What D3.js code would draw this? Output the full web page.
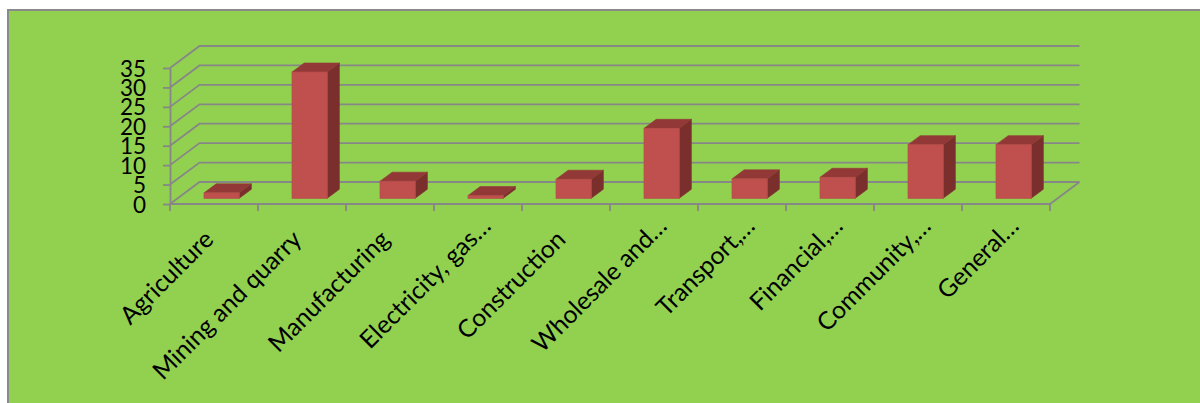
<!DOCTYPE html>
<html>
<head>
<meta charset="utf-8">
<script src="https://cdn.jsdelivr.net/npm/d3@7"></script>
<style>
  html, body { margin: 0; padding: 0; background: #ffffff; }
  svg { display: block; }
</style>
</head>
<body>
<div id="chart"></div>
<script>
// ---- data ----
const categories = ["Agriculture", "Mining and quarry", "Manufacturing", "Electricity, gas\u2026",
  "Construction", "Wholesale and\u2026", "Transport,\u2026", "Financial,\u2026", "Community,\u2026", "General\u2026"];
const values = [1.4, 32.5, 4.4, 0.7, 4.9, 18.0, 5.0, 5.4, 13.8, 13.8];
const yTicks = [0, 5, 10, 15, 20, 25, 30, 35];

// ---- layout ----
const W = 1200, H = 403;
const plot = { left: 170, right: 1050, bottom: 204, top: 68 };
const depth = { dx: 29.5, dy: -22 };       // floor depth vector
const barDepth = { d0: 0.26, d1: 0.67 };    // fraction of floor depth
const barFrac = 0.4;                        // bar width as fraction of band
const fontFamily = "Lato, 'Open Sans', sans-serif";

const colors = {
  bg: "#92D050", border: "#8a8a8a", grid: "#878787",
  front: "#C0504D", top: "#923937", side: "#7B2F2D", text: "#000000"
};

const svg = d3.select("#chart").append("svg").attr("width", W).attr("height", H);

// chart area
svg.append("rect").attr("x", 8).attr("y", 10).attr("width", W + 20).attr("height", H + 20)
  .attr("fill", colors.bg).attr("stroke", colors.border).attr("stroke-width", 2);

const y = d3.scaleLinear().domain([0, 35]).range([plot.bottom, plot.top]);
const x = d3.scaleBand().domain(categories).range([plot.left, plot.right]).padding(0);

// back wall + left wall gridlines
const g = svg.append("g");
g.selectAll("path.grid").data(yTicks).join("path").attr("class", "grid")
  .attr("d", t => `M${plot.left},${y(t)} L${plot.left + depth.dx},${y(t) + depth.dy} L${plot.right + depth.dx},${y(t) + depth.dy}`)
  .attr("fill", "none").attr("stroke", colors.grid).attr("stroke-width", 1.8);

// floor front edge and right edge
g.append("path")
  .attr("d", `M${plot.left},${plot.bottom} L${plot.right},${plot.bottom} L${plot.right + depth.dx},${plot.bottom + depth.dy}`)
  .attr("fill", "none").attr("stroke", colors.grid).attr("stroke-width", 1.8);

// vertical axis
const yAxis = d3.axisLeft(y).tickValues(yTicks).tickSize(7).tickSizeOuter(0).tickPadding(17);
const ya = svg.append("g").attr("transform", `translate(${plot.left},0)`).call(yAxis);
ya.select(".domain").attr("stroke", colors.grid).attr("stroke-width", 1.8);
ya.selectAll(".tick line").attr("stroke", colors.grid).attr("stroke-width", 1.8);
ya.selectAll(".tick text").attr("font-family", fontFamily)
  .attr("font-size", 22.5).attr("fill", colors.text).attr("dy", "0.36em");

// category ticks at band edges
const edges = categories.map(c => x(c)).concat([x(categories[categories.length - 1]) + x.bandwidth()]);
g.selectAll("line.xt").data(edges).join("line").attr("class", "xt")
  .attr("x1", d => d).attr("x2", d => d).attr("y1", plot.bottom).attr("y2", plot.bottom + 7)
  .attr("stroke", colors.grid).attr("stroke-width", 1.8);

// bars (3D)
const bw = x.bandwidth() * barFrac;
const bars = svg.append("g").selectAll("g.bar").data(categories.map((c, i) => ({ c, v: values[i] })))
  .join("g").attr("class", "bar");

function geom(d) {
  const fx = x(d.c) + (x.bandwidth() - bw) / 2 + barDepth.d0 * depth.dx;
  const fyb = y(0) + barDepth.d0 * depth.dy;
  const fyt = y(d.v) + barDepth.d0 * depth.dy;
  const ddx = (barDepth.d1 - barDepth.d0) * depth.dx;
  const ddy = (barDepth.d1 - barDepth.d0) * depth.dy;
  return { fx, fyb, fyt, ddx, ddy };
}
bars.append("path").attr("fill", colors.side).attr("stroke", colors.side).attr("stroke-width", 0.6)
  .attr("d", d => { const q = geom(d);
    return `M${q.fx + bw},${q.fyt} L${q.fx + bw + q.ddx},${q.fyt + q.ddy} L${q.fx + bw + q.ddx},${q.fyb + q.ddy} L${q.fx + bw},${q.fyb} Z`; });
bars.append("path").attr("fill", colors.top).attr("stroke", colors.top).attr("stroke-width", 0.6)
  .attr("d", d => { const q = geom(d);
    return `M${q.fx},${q.fyt} L${q.fx + q.ddx},${q.fyt + q.ddy} L${q.fx + bw + q.ddx},${q.fyt + q.ddy} L${q.fx + bw},${q.fyt} Z`; });
bars.append("rect").attr("fill", colors.front).attr("stroke", "#b44b48").attr("stroke-width", 0.8)
  .attr("x", d => geom(d).fx).attr("y", d => geom(d).fyt)
  .attr("width", bw).attr("height", d => geom(d).fyb - geom(d).fyt);

// category labels rotated -45; font size calibrated so "Mining and quarry" spans ~198px
const probe = svg.append("text").attr("font-family", fontFamily).attr("font-size", 100).text(categories[1]);
const catSize = Math.max(18, Math.min(28, 100 * 198 / probe.node().getComputedTextLength()));
probe.remove();

svg.append("g").selectAll("text.cat").data(categories).join("text").attr("class", "cat")
  .attr("transform", c => `translate(${x(c) + x.bandwidth() / 2 + 1},${plot.bottom + 37}) rotate(-45)`)
  .attr("x", c => c.endsWith("\u2026") ? 19 : 0)
  .attr("text-anchor", "end")
  .attr("font-family", fontFamily).attr("font-size", catSize)
  .attr("fill", colors.text)
  .text(c => c);
</script>
</body>
</html>
